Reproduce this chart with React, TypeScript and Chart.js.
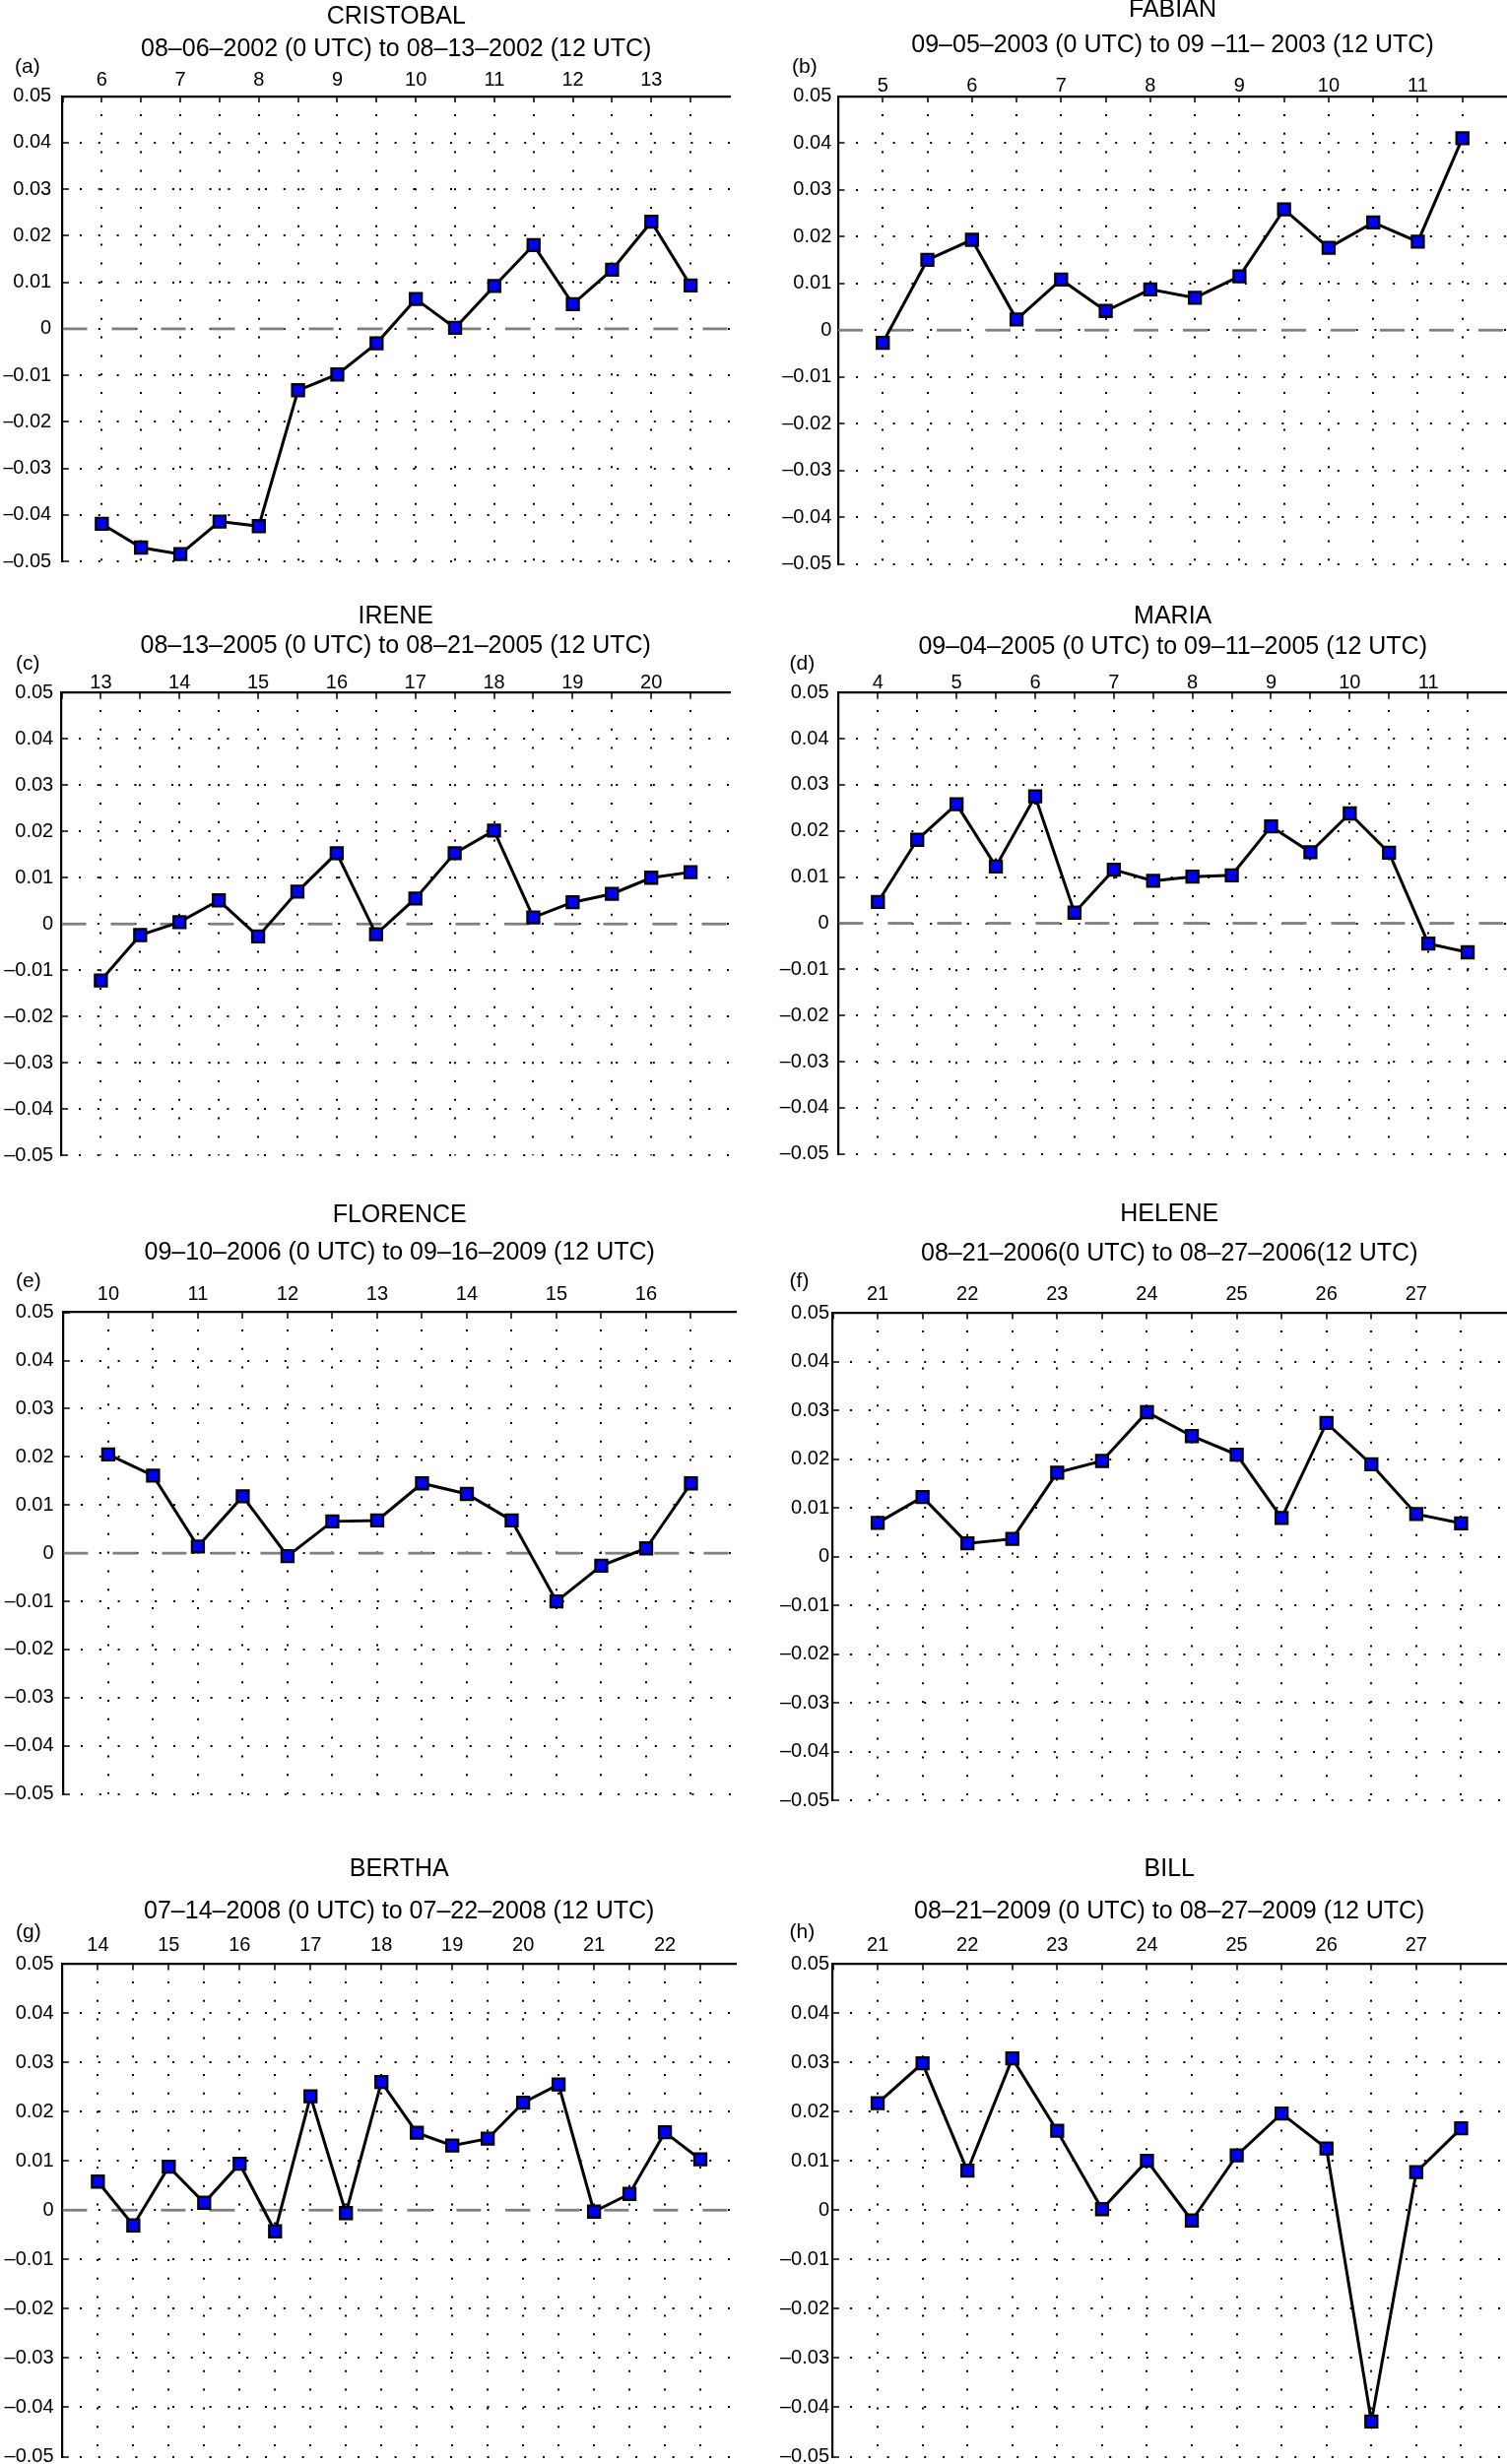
import React, { useEffect, useRef } from 'react';
import { Chart, registerables } from 'chart.js';

Chart.register(...registerables);

const FONT = '"Liberation Sans", Arial, Helvetica, sans-serif';

// ---------- data (12-hourly times in day-of-month, values) ----------
const cristobalTimes = [6, 6.5, 7, 7.5, 8, 8.5, 9, 9.5, 10, 10.5, 11, 11.5, 12, 12.5, 13, 13.5];
const cristobalValues = [-0.0419, -0.047, -0.0484, -0.0414, -0.0424, -0.0132, -0.0098, -0.0031, 0.0064, 0.0002, 0.0092, 0.018, 0.0053, 0.0127, 0.023, 0.0093];

const fabianTimes = [5, 5.5, 6, 6.5, 7, 7.5, 8, 8.5, 9, 9.5, 10, 10.5, 11, 11.5];
const fabianValues = [-0.0027, 0.015, 0.0193, 0.0023, 0.0108, 0.0041, 0.0087, 0.0069, 0.0115, 0.0258, 0.0176, 0.023, 0.0189, 0.041];

const ireneTimes = [13, 13.5, 14, 14.5, 15, 15.5, 16, 16.5, 17, 17.5, 18, 18.5, 19, 19.5, 20, 20.5];
const ireneValues = [-0.0122, -0.0024, 0.0004, 0.0051, -0.0027, 0.007, 0.0153, -0.0022, 0.0055, 0.0153, 0.0202, 0.0014, 0.0047, 0.0065, 0.01, 0.0112];

const mariaTimes = [4, 4.5, 5, 5.5, 6, 6.5, 7, 7.5, 8, 8.5, 9, 9.5, 10, 10.5, 11, 11.5];
const mariaValues = [0.0046, 0.0181, 0.0258, 0.0123, 0.0275, 0.0023, 0.0116, 0.0092, 0.0101, 0.0104, 0.021, 0.0154, 0.0238, 0.0153, -0.0044, -0.0063];

const florenceTimes = [10, 10.5, 11, 11.5, 12, 12.5, 13, 13.5, 14, 14.5, 15, 15.5, 16, 16.5];
const florenceValues = [0.0205, 0.0161, 0.0014, 0.0118, -0.0006, 0.0066, 0.0068, 0.0145, 0.0123, 0.0068, -0.01, -0.0026, 0.001, 0.0145];

const heleneTimes = [21, 21.5, 22, 22.5, 23, 23.5, 24, 24.5, 25, 25.5, 26, 26.5, 27, 27.5];
const heleneValues = [0.0069, 0.0122, 0.0027, 0.0036, 0.0172, 0.0196, 0.0296, 0.0247, 0.0209, 0.0079, 0.0274, 0.0189, 0.0087, 0.0068];

const berthaTimes = [14, 14.5, 15, 15.5, 16, 16.5, 17, 17.5, 18, 18.5, 19, 19.5, 20, 20.5, 21, 21.5, 22, 22.5];
const berthaValues = [0.0058, -0.0031, 0.0088, 0.0015, 0.0094, -0.0043, 0.0231, -0.0006, 0.026, 0.0157, 0.0131, 0.0145, 0.0218, 0.0255, -0.0003, 0.0033, 0.0158, 0.0103];

const billTimes = [21, 21.5, 22, 22.5, 23, 23.5, 24, 24.5, 25, 25.5, 26, 26.5, 27, 27.5];
const billValues = [0.0217, 0.0298, 0.008, 0.0308, 0.0161, 0.0002, 0.01, -0.0021, 0.0111, 0.0196, 0.0125, -0.0429, 0.0077, 0.0166];

const panelNames = ['CRISTOBAL', 'FABIAN', 'IRENE', 'MARIA', 'FLORENCE', 'HELENE', 'BERTHA', 'BILL'];
const panelTags = ['(a)', '(b)', '(c)', '(d)', '(e)', '(f)', '(g)', '(h)'];
const panelSubtitles = [
  '08–06–2002 (0 UTC) to 08–13–2002 (12 UTC)',
  '09–05–2003 (0 UTC) to 09 –11– 2003 (12 UTC)',
  '08–13–2005 (0 UTC) to 08–21–2005 (12 UTC)',
  '09–04–2005 (0 UTC) to 09–11–2005 (12 UTC)',
  '09–10–2006 (0 UTC) to 09–16–2009 (12 UTC)',
  '08–21–2006(0 UTC) to 08–27–2006(12 UTC)',
  '07–14–2008 (0 UTC) to 07–22–2008 (12 UTC)',
  '08–21–2009 (0 UTC) to 08–27–2009 (12 UTC)',
];
const panelTimes = [cristobalTimes, fabianTimes, ireneTimes, mariaTimes, florenceTimes, heleneTimes, berthaTimes, billTimes];
const panelValues = [cristobalValues, fabianValues, ireneValues, mariaValues, florenceValues, heleneValues, berthaValues, billValues];
const panelXMin = [5.5, 4.5, 12.5, 3.5, 9.5, 20.5, 13.5, 20.5];
const panelXMax = [14, 12, 21, 12, 17, 28, 23, 28];
const panelZeroLine = [true, true, true, true, true, false, true, false];

const yMin = -0.05;
const yMax = 0.05;
const yStep = 0.01;

// ---------- layout (pixels) ----------
type Layout = {
  cx: number; cy: number; cw: number; ch: number;
  L: number; R: number; T: number; B: number;
  nameDy: number; subDy: number; tagX: number; tagDy: number;
  xPad: number; yPad: number;
};
const layouts: Layout[] = [
  { cx: 0, cy: 0, cw: 765, ch: 600, L: 63.5, R: 741, T: 97.6, B: 572.9, nameDy: -80.3, subDy: -47.7, tagX: 15, tagDy: -29.3, xPad: 10.6, yPad: 17.3 },
  { cx: 765, cy: 0, cw: 800, ch: 600, L: 851, R: 1530, T: 97.6, B: 572.9, nameDy: -87.6, subDy: -51.6, tagX: 804, tagDy: -29.4, xPad: 4.4, yPad: 12.7 },
  { cx: 0, cy: 600, cw: 765, ch: 600, L: 62.5, R: 741, T: 703.3, B: 1179.8, nameDy: -77.3, subDy: -46.7, tagX: 16, tagDy: -28.7, xPad: 4.3, yPad: 14.3 },
  { cx: 765, cy: 600, cw: 800, ch: 600, L: 851.4, R: 1530, T: 703.3, B: 1179.8, nameDy: -77.3, subDy: -45.9, tagX: 801.6, tagDy: -28.7, xPad: 4.3, yPad: 15.8 },
  { cx: 0, cy: 1200, cw: 765, ch: 650, L: 64.4, R: 747, T: 1332.6, B: 1833.4, nameDy: -98.6, subDy: -60, tagX: 16, tagDy: -31, xPad: 11.8, yPad: 15.8 },
  { cx: 765, cy: 1200, cw: 800, ch: 650, L: 845.5, R: 1529, T: 1333, B: 1833.4, nameDy: -99.5, subDy: -59.7, tagX: 801.6, tagDy: -31.9, xPad: 12.7, yPad: 9.5 },
  { cx: 0, cy: 1850, cw: 765, ch: 680, L: 63.4, R: 747, T: 1994, B: 2494.5, nameDy: -96.1, subDy: -53.3, tagX: 16, tagDy: -31.6, xPad: 12.3, yPad: 14.8 },
  { cx: 765, cy: 1850, cw: 800, ch: 680, L: 845.5, R: 1529, T: 1994, B: 2494.5, nameDy: -96.1, subDy: -53.3, tagX: 801.6, tagDy: -31.6, xPad: 12.3, yPad: 9.5 },
];

const Y_AXIS_W = 60;
const X_AXIS_H = 30;
const TICK_LEN = -6.5;

const panelTextPlugin = {
  id: 'panelText',
  afterDraw(chart: any, _args: any, opts: any) {
    const { ctx, chartArea } = chart;
    const mid = (chartArea.left + chartArea.right) / 2;
    ctx.save();
    ctx.fillStyle = '#000';
    ctx.textBaseline = 'middle';
    ctx.textAlign = 'center';
    ctx.font = `25px ${FONT}`;
    ctx.fillText(opts.name, mid, chartArea.top + opts.nameDy);
    ctx.fillText(opts.subtitle, mid, chartArea.top + opts.subDy);
    ctx.textAlign = 'left';
    ctx.font = `21px ${FONT}`;
    ctx.fillText(opts.tag, opts.tagX, chartArea.top + opts.tagDy);
    ctx.restore();
  },
};

const near = (a: number, b: number) => Math.abs(a - b) < 1e-7;

function Panel({ index }: { index: number }) {
  const ref = useRef<HTMLCanvasElement>(null);
  const lay = layouts[index];

  useEffect(() => {
    if (!ref.current) return;
    const times = panelTimes[index];
    const values = panelValues[index];
    const xMin = panelXMin[index];
    const xMax = panelXMax[index];
    const first = times[0];
    const last = times[times.length - 1];

    const datasets: any[] = [
      {
        data: times.map((t, i) => ({ x: t, y: values[i] })),
        borderColor: '#000',
        borderWidth: 3,
        pointStyle: 'rect',
        pointRadius: 8.5,
        pointHoverRadius: 8.5,
        pointBackgroundColor: '#0000ff',
        pointBorderColor: '#000',
        pointBorderWidth: 2.3,
        tension: 0,
        clip: false,
        order: 0,
      },
    ];
    if (panelZeroLine[index]) {
      datasets.push({
        data: [
          { x: xMin, y: 0 },
          { x: xMax, y: 0 },
        ],
        borderColor: '#808080',
        borderWidth: 2.8,
        borderDash: [25, 25],
        pointRadius: 0,
        pointHoverRadius: 0,
        tension: 0,
        order: 1,
      });
    }

    const chart = new Chart(ref.current, {
      type: 'line',
      data: { datasets },
      plugins: [panelTextPlugin],
      options: {
        animation: false,
        responsive: false,
        devicePixelRatio: 1,
        events: [],
        layout: {
          padding: {
            left: lay.L - lay.cx - Y_AXIS_W,
            right: lay.cx + lay.cw - lay.R,
            top: lay.T - lay.cy - X_AXIS_H,
            bottom: lay.cy + lay.ch - lay.B,
          },
        },
        plugins: {
          legend: { display: false },
          title: { display: false },
          tooltip: { enabled: false },
          panelText: {
            name: panelNames[index],
            subtitle: panelSubtitles[index],
            tag: panelTags[index],
            nameDy: lay.nameDy,
            subDy: lay.subDy,
            tagX: lay.tagX - lay.cx,
            tagDy: lay.tagDy,
          },
        } as any,
        scales: {
          x: {
            type: 'linear',
            position: 'top',
            min: xMin,
            max: xMax,
            afterFit: (s: any) => {
              s.height = X_AXIS_H;
            },
            ticks: {
              stepSize: 0.5,
              autoSkip: false,
              maxRotation: 0,
              minRotation: 0,
              padding: lay.xPad + 0.5,
              color: '#000',
              font: { family: FONT, size: 20 },
              callback: (v: any) => {
                const n = Number(v);
                return near(n, Math.round(n)) && n >= first - 1e-7 && n <= last + 1e-7 ? String(Math.round(n)) : '';
              },
            },
            grid: {
              drawTicks: true,
              tickLength: TICK_LEN,
              tickWidth: 1.5,
              lineWidth: 2,
              color: (c: any) =>
                c.tick && (near(c.tick.value, xMin) || near(c.tick.value, xMax)) ? 'rgba(0,0,0,0)' : '#000',
              tickColor: (c: any) => (c.tick && near(c.tick.value, xMax) ? 'rgba(0,0,0,0)' : '#000'),
            },
            border: { display: true, color: '#000', width: 2.2, dash: [2, 16.8], dashOffset: 2 },
          },
          y: {
            type: 'linear',
            position: 'left',
            min: yMin,
            max: yMax,
            afterFit: (s: any) => {
              s.width = Y_AXIS_W;
            },
            ticks: {
              stepSize: yStep,
              autoSkip: false,
              padding: lay.yPad + 0.5,
              color: '#000',
              font: { family: FONT, size: 20 },
              callback: (v: any) => {
                const n = Number(v);
                if (Math.abs(n) < 1e-9) return '0';
                return (n < 0 ? '–' : '') + Math.abs(n).toFixed(2);
              },
            },
            grid: {
              drawTicks: true,
              tickLength: TICK_LEN,
              tickWidth: 1.5,
              lineWidth: 2,
              color: (c: any) => (c.tick && near(c.tick.value, yMax) ? 'rgba(0,0,0,0)' : '#000'),
              tickColor: '#000',
            },
            border: { display: true, color: '#000', width: 2.2, dash: [2, 16.8], dashOffset: 2 },
          },
        },
      } as any,
    });
    return () => chart.destroy();
  }, [index]);

  return (
    <canvas
      ref={ref}
      width={lay.cw}
      height={lay.ch}
      style={{ position: 'absolute', left: lay.cx, top: lay.cy, width: lay.cw, height: lay.ch }}
    />
  );
}

export default function App() {
  return (
    <div
      style={{
        position: 'absolute',
        left: 0,
        top: 0,
        width: 1530,
        height: 2502,
        overflow: 'hidden',
        background: '#fff',
      }}
    >
      {panelNames.map((_, i) => (
        <Panel key={i} index={i} />
      ))}
    </div>
  );
}
